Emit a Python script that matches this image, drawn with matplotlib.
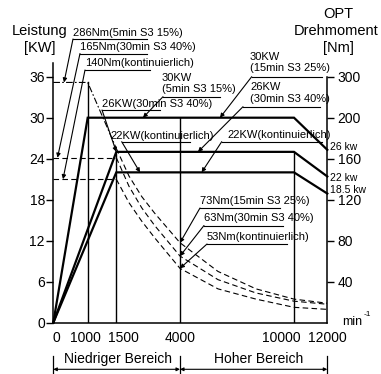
import numpy as np
import matplotlib.pyplot as plt
from matplotlib.lines import Line2D
from matplotlib.transforms import ScaledTranslation

plt.rcParams['font.family'] = ['Liberation Sans', 'DejaVu Sans']

W, H = 381, 374

# Drehzahlachse (stueckweise linear, wie im Original)
speed_ticks = [0, 1000, 1500, 4000, 10000, 12000]
speed_px = [0, 34.4, 63.0, 126.7, 240.7, 274.0]

# Leistung links, Drehmoment rechts (gleiche Hoehen)
power_ticks = [0, 6, 12, 18, 24, 30, 36]
torque_ticks = [0, 40, 80, 120, 160, 200, 300]

# Leistungskennlinien [kW]
p30_rpm = [0, 1000, 10000, 12000]
p30_kw = [0, 30, 30, 25.3]
p26_rpm = [0, 1500, 10000, 12000]
p26_kw = [0, 25, 25, 21.4]
p22_rpm = [0, 1500, 10000, 12000]
p22_kw = [0, 22, 22, 18.9]

# senkrechte Linien bei Grunddrehzahlen
base_rpm = [1000, 1500, 4000, 10000]
base_top_kw = [35.2, 25, 30, 25]

# Drehmoment [Nm]
t286_rpm = [0, 1000, 1500]
t286_nm = [286, 286, 170]
t165_rpm = [0, 1500]
t165_nm = [161, 161]
t140_rpm = [0, 1500]
t140_nm = [140, 140]

curve_rpm = [1500, 2000, 2500, 3000, 4000, 6000, 8000, 10000, 12000]
curve_a_nm = [170, 143, 123, 107, 78, 50, 33, 23, 19]
curve_b_nm = [161, 133, 112, 95, 65, 42, 29, 21, 18]
curve_c_nm = [140, 117, 99, 83, 53, 33, 23, 15, 13]


def nm_to_pos(nm):
    return np.interp(nm, torque_ticks, power_ticks)


ext_rpm = [-12000] + speed_ticks + [24000]
ext_px = [-412.8] + speed_px + [274.0 + 199.8]


def fwd(x):
    return np.interp(x, ext_rpm, ext_px)


def inv(p):
    return np.interp(p, ext_px, ext_rpm)


def fp(x, y):
    # Pixel im Original -> figure fraction
    return (x / W, 1 - y / H)


fig = plt.figure(figsize=(W / 100, H / 100), dpi=100)
px_per_kw = 246 / 36
ax = fig.add_axes([53.3 / W, (H - 322.7) / H, 274 / W, 38 * px_per_kw / H])
ax.set_xscale('function', functions=(fwd, inv))
ax.set_xlim(0, 12000)
ax.set_ylim(0, 38)

# Leistung
for r, p in [(p30_rpm, p30_kw), (p26_rpm, p26_kw), (p22_rpm, p22_kw)]:
    ax.plot(r, p, color='black', lw=1.6, solid_joinstyle='miter', clip_on=False)
for r, top in zip(base_rpm, base_top_kw):
    ax.plot([r, r], [0, top], color='black', lw=1.0)

# Drehmoment
ax.plot(t286_rpm, nm_to_pos(t286_nm), color='black', lw=0.8, dashes=(6, 2, 1.5, 2))
ax.plot(t165_rpm, nm_to_pos(t165_nm), color='black', lw=0.8, dashes=(5, 3))
ax.plot(t140_rpm, nm_to_pos(t140_nm), color='black', lw=0.8, dashes=(5, 3))
for c in [curve_a_nm, curve_b_nm, curve_c_nm]:
    ax.plot(curve_rpm, nm_to_pos(c), color='black', lw=0.8, dashes=(5, 3))

# Achsen
for s in ['left', 'right', 'bottom']:
    ax.spines[s].set_linewidth(1.1)
ax.spines['top'].set_visible(False)
ax.spines['right'].set_bounds(0, 36)

ax.set_yticks(power_ticks)
ax.set_yticklabels([str(v) for v in power_ticks])
ax.tick_params(axis='y', direction='out', length=5, width=1.0, pad=1, labelsize=10)

ax2 = ax.twinx()
ax2.set_ylim(0, 38)
for s in ['left', 'top', 'bottom', 'right']:
    ax2.spines[s].set_visible(False)
ax2.set_yticks(power_ticks[1:])
ax2.set_yticklabels([str(v) for v in torque_ticks[1:]])
ax2.tick_params(axis='y', direction='out', length=5, width=1.0, pad=2.5, labelsize=10)

ax.set_xticks(speed_ticks)
ax.set_xticklabels([str(v) for v in speed_ticks])
ax.tick_params(axis='x', length=0, pad=6, labelsize=10)
label_dx = [2.7, -2.7, 6.7, 0, -13, -0.3]
for lab, dx in zip(ax.get_xticklabels(), label_dx):
    lab.set_transform(lab.get_transform() + ScaledTranslation(dx / 100, 0, fig.dpi_scale_trans))

# Achsentitel
fig.text(*fp(39.5, 31), 'Leistung', ha='center', va='center', fontsize=10.5)
fig.text(*fp(39.5, 48), '[KW]', ha='center', va='center', fontsize=10.5)
fig.text(*fp(338, 14), 'OPT', ha='center', va='center', fontsize=10.5)
fig.text(*fp(336, 31), 'Drehmoment', ha='center', va='center', fontsize=10.5)
fig.text(*fp(338, 48), '[Nm]', ha='center', va='center', fontsize=10.5)
fig.text(*fp(342, 322), 'min', ha='left', va='center', fontsize=9)
fig.text(*fp(364, 314), '-1', ha='left', va='center', fontsize=6)

fig.text(*fp(330, 147), '26 kw', ha='left', va='center', fontsize=7.5)
fig.text(*fp(330, 178), '22 kw', ha='left', va='center', fontsize=7.5)
fig.text(*fp(330, 190), '18.5 kw', ha='left', va='center', fontsize=7.5)

# Beschriftungen mit Hinweislinien
labels = [
    (['286Nm(5min S3 15%)'], (73, 33), (73, 147, 39), (311, nm_to_pos(t286_nm[0]))),
    (['165Nm(30min S3 40%)'], (80, 47.5), (80, 147, 53.5), (122, nm_to_pos(t165_nm[0]))),
    (['140Nm(kontinuierlich)'], (85, 62.5), (85, 150, 70), (282, nm_to_pos(t140_nm[0]))),
    (['30KW', '(5min S3 15%)'], (162, 78), (163, 220, 96.7), (2547, p30_kw[1])),
    (['26KW(30min S3 40%)'], (102, 104), (102, 160, 110), (1500, p26_kw[1])),
    (['22KW(kontinuierlich)'], (110, 136), (121.7, 190, 141.7), (2430, p22_kw[1])),
    (['30KW', '(15min S3 25%)'], (250, 57), (251.7, 322, 76.7), (6105, p30_kw[2])),
    (['26KW', '(30min S3 40%)'], (250, 87.5), (243, 320, 106.7), (4947, p26_kw[2])),
    (['22KW(kontinuierlich)'], (227, 135), (221.7, 322, 141.7), (5140, p22_kw[2])),
    (['73Nm(15min S3 25%)'], (200, 200.7), (200, 280, 208), (4000, nm_to_pos(curve_a_nm[4]))),
    (['63Nm(30min S3 40%)'], (204, 218), (204, 283, 225.5), (4000, nm_to_pos(curve_b_nm[4]))),
    (['53Nm(kontinuierlich)'], (207, 236.7), (207, 287, 244), (4000, nm_to_pos(curve_c_nm[4]))),
]
for lines, (tx, ty), (ux0, ux1, uy), tip in labels:
    for i, s in enumerate(lines):
        fig.text(*fp(tx, ty + i * 11), s, ha='left', va='center', fontsize=8.0)
    fig.add_artist(Line2D([ux0 / W, ux1 / W], [1 - uy / H, 1 - uy / H],
                          transform=fig.transFigure, color='black', lw=0.8))
    ax.annotate('', xy=tip, xycoords='data', xytext=fp(ux0, uy), textcoords='figure fraction',
                arrowprops=dict(arrowstyle='-|>', color='black', lw=0.8,
                                mutation_scale=6, shrinkA=0, shrinkB=0))

# Drehzahlbereiche
for x in [53.3, 180, 327.3]:
    fig.add_artist(Line2D([x / W, x / W], [1 - 356 / H, 1 - 373 / H],
                          transform=fig.transFigure, color='black', lw=0.9))
for x0, x1 in [(53.3, 180), (180, 327.3)]:
    ax.annotate('', xy=fp(x0, 369.3), xytext=fp(x1, 369.3), xycoords='figure fraction',
                arrowprops=dict(arrowstyle='<|-|>', color='black', lw=0.8,
                                mutation_scale=5, shrinkA=0, shrinkB=0))
fig.text(*fp(117.5, 359), 'Niedriger Bereich', ha='center', va='center', fontsize=10)
fig.text(*fp(258.7, 359), 'Hoher Bereich', ha='center', va='center', fontsize=10)

fig.savefig('out.png', dpi=100)
